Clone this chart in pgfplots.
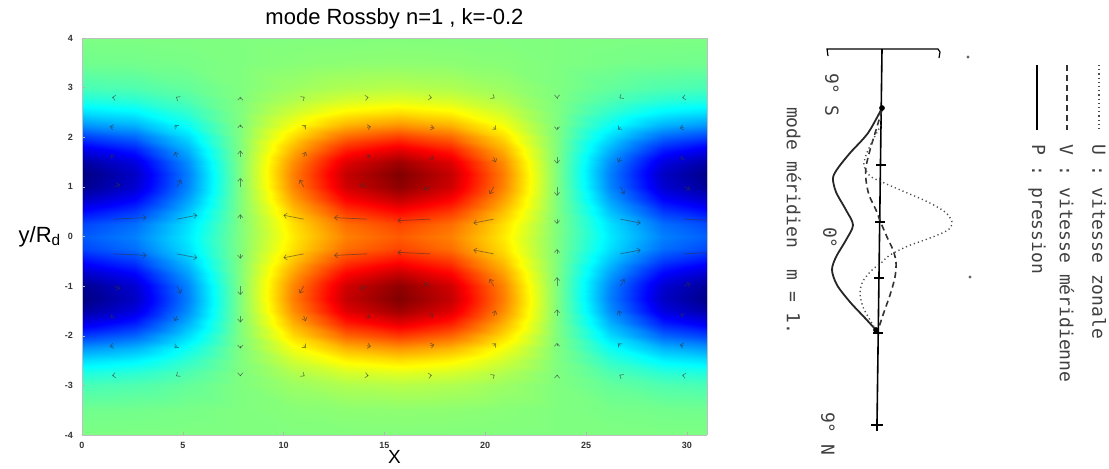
\documentclass[border=0pt]{standalone}
\usepackage{fontspec}
\setmainfont{Liberation Sans}
\newfontfamily\monof{DejaVu Sans Mono}
\usepackage{pgfplots}
\pgfplotsset{compat=1.18}
\usepackage{pgfplotstable}
\usetikzlibrary{arrows.meta}

\pgfplotstableread{
x y u v
1.571 2.8 -0.082 0.005
4.712 2.8 -0.051 0.013
7.854 2.8 0 0.017
10.996 2.8 0.051 0.013
14.137 2.8 0.082 0.005
17.279 2.8 0.082 -0.005
20.420 2.8 0.051 -0.013
23.562 2.8 0 -0.017
26.704 2.8 -0.051 -0.013
29.845 2.8 -0.082 -0.005
1.571 2.2 -0.196 0.018
4.712 2.2 -0.121 0.048
7.854 2.2 0 0.059
10.996 2.2 0.121 0.048
14.137 2.2 0.196 0.018
17.279 2.2 0.196 -0.018
20.420 2.2 0.121 -0.048
23.562 2.2 0 -0.059
26.704 2.2 -0.121 -0.048
29.845 2.2 -0.196 -0.018
1.571 1.6 -0.164 0.041
4.712 1.6 -0.101 0.108
7.854 1.6 0 0.134
10.996 1.6 0.101 0.108
14.137 1.6 0.164 0.041
17.279 1.6 0.164 -0.041
20.420 1.6 0.101 -0.108
23.562 1.6 0 -0.134
26.704 1.6 -0.101 -0.108
29.845 1.6 -0.164 -0.041
1.571 1.0 0.327 0.056
4.712 1.0 0.202 0.147
7.854 1.0 0 0.182
10.996 1.0 -0.202 0.147
14.137 1.0 -0.327 0.056
17.279 1.0 -0.327 -0.056
20.420 1.0 -0.202 -0.147
23.562 1.0 0 -0.182
26.704 1.0 0.202 -0.147
29.845 1.0 0.327 -0.056
1.571 0.35 1.636 0.031
4.712 0.35 1.011 0.080
7.854 0.35 0 0.099
10.996 0.35 -1.011 0.080
14.137 0.35 -1.636 0.031
17.279 0.35 -1.636 -0.031
20.420 0.35 -1.011 -0.080
23.562 0.35 0 -0.099
26.704 0.35 1.011 -0.080
29.845 0.35 1.636 -0.031
1.571 -0.35 1.636 -0.031
4.712 -0.35 1.011 -0.080
7.854 -0.35 0 -0.099
10.996 -0.35 -1.011 -0.080
14.137 -0.35 -1.636 -0.031
17.279 -0.35 -1.636 0.031
20.420 -0.35 -1.011 0.080
23.562 -0.35 0 0.099
26.704 -0.35 1.011 0.080
29.845 -0.35 1.636 0.031
1.571 -1.0 0.327 -0.056
4.712 -1.0 0.202 -0.147
7.854 -1.0 0 -0.182
10.996 -1.0 -0.202 -0.147
14.137 -1.0 -0.327 -0.056
17.279 -1.0 -0.327 0.056
20.420 -1.0 -0.202 0.147
23.562 -1.0 0 0.182
26.704 -1.0 0.202 0.147
29.845 -1.0 0.327 0.056
1.571 -1.6 -0.164 -0.041
4.712 -1.6 -0.101 -0.108
7.854 -1.6 0 -0.134
10.996 -1.6 0.101 -0.108
14.137 -1.6 0.164 -0.041
17.279 -1.6 0.164 0.041
20.420 -1.6 0.101 0.108
23.562 -1.6 0 0.134
26.704 -1.6 -0.101 0.108
29.845 -1.6 -0.164 0.041
1.571 -2.2 -0.196 -0.018
4.712 -2.2 -0.121 -0.048
7.854 -2.2 0 -0.059
10.996 -2.2 0.121 -0.048
14.137 -2.2 0.196 -0.018
17.279 -2.2 0.196 0.018
20.420 -2.2 0.121 0.048
23.562 -2.2 0 0.059
26.704 -2.2 -0.121 0.048
29.845 -2.2 -0.196 0.018
1.571 -2.8 -0.082 -0.005
4.712 -2.8 -0.051 -0.013
7.854 -2.8 0 -0.017
10.996 -2.8 0.051 -0.013
14.137 -2.8 0.082 -0.005
17.279 -2.8 0.082 0.005
20.420 -2.8 0.051 0.013
23.562 -2.8 0 0.017
26.704 -2.8 -0.051 0.013
29.845 -2.8 -0.082 0.005
}\quiv

\begin{document}
\begin{tikzpicture}
\useasboundingbox (0,0) rectangle (554.5pt,234pt);
\begin{axis}[at={(41pt,16.5pt)}, anchor=south west, width=312.5pt, height=198.5pt, scale only axis,
  view={0}{90}, xmin=0, xmax=31, ymin=-4, ymax=4, clip mode=individual,
  colormap/jet, point meta min=-1, point meta max=1,
  xtick={0,5,...,30}, ytick={-4,-3,...,4},
  tick label style={font=\fontsize{4.5}{5}\selectfont\bfseries, text=black!80},
  /pgf/number format/assume math mode=true,
  axis line style={gray!50, line width=0.4pt},
  tick style={gray!60}, major tick length=1.5pt, tick align=inside,
  xtick pos=left, ytick pos=left,
  xticklabel style={yshift=0pt}, yticklabel style={xshift=-1pt}]
\addplot3[surf, shader=interp, mesh/cols=13, mesh/rows=29] table[row sep=\\] {
x y z\\
0 -4 -0.006\\2.618 -4 -0.005\\5.236 -4 -0.003\\7.854 -4 0\\10.472 -4 0.003\\13.09 -4 0.005\\15.708 -4 0.006\\18.326 -4 0.005\\20.944 -4 0.003\\23.562 -4 0\\26.18 -4 -0.003\\28.798 -4 -0.005\\31.416 -4 -0.006\\
0 -3.5 -0.029\\2.618 -3.5 -0.025\\5.236 -3.5 -0.015\\7.854 -3.5 0\\10.472 -3.5 0.015\\13.09 -3.5 0.025\\15.708 -3.5 0.029\\18.326 -3.5 0.025\\20.944 -3.5 0.015\\23.562 -3.5 0\\26.18 -3.5 -0.015\\28.798 -3.5 -0.025\\31.416 -3.5 -0.029\\
0 -3 -0.109\\2.618 -3 -0.094\\5.236 -3 -0.055\\7.854 -3 0\\10.472 -3 0.055\\13.09 -3 0.094\\15.708 -3 0.109\\18.326 -3 0.094\\20.944 -3 0.055\\23.562 -3 0\\26.18 -3 -0.055\\28.798 -3 -0.094\\31.416 -3 -0.109\\
0 -2.75 -0.190\\2.618 -2.75 -0.165\\5.236 -2.75 -0.095\\7.854 -2.75 0\\10.472 -2.75 0.095\\13.09 -2.75 0.165\\15.708 -2.75 0.190\\18.326 -2.75 0.165\\20.944 -2.75 0.095\\23.562 -2.75 0\\26.18 -2.75 -0.095\\28.798 -2.75 -0.165\\31.416 -2.75 -0.190\\
0 -2.5 -0.307\\2.618 -2.5 -0.266\\5.236 -2.5 -0.154\\7.854 -2.5 0\\10.472 -2.5 0.154\\13.09 -2.5 0.266\\15.708 -2.5 0.307\\18.326 -2.5 0.266\\20.944 -2.5 0.154\\23.562 -2.5 0\\26.18 -2.5 -0.154\\28.798 -2.5 -0.266\\31.416 -2.5 -0.307\\
0 -2.25 -0.460\\2.618 -2.25 -0.398\\5.236 -2.25 -0.230\\7.854 -2.25 0\\10.472 -2.25 0.230\\13.09 -2.25 0.398\\15.708 -2.25 0.460\\18.326 -2.25 0.398\\20.944 -2.25 0.230\\23.562 -2.25 0\\26.18 -2.25 -0.230\\28.798 -2.25 -0.398\\31.416 -2.25 -0.460\\
0 -2 -0.634\\2.618 -2 -0.549\\5.236 -2 -0.317\\7.854 -2 0\\10.472 -2 0.317\\13.09 -2 0.549\\15.708 -2 0.634\\18.326 -2 0.549\\20.944 -2 0.317\\23.562 -2 0\\26.18 -2 -0.317\\28.798 -2 -0.549\\31.416 -2 -0.634\\
0 -1.75 -0.805\\2.618 -1.75 -0.697\\5.236 -1.75 -0.403\\7.854 -1.75 0\\10.472 -1.75 0.403\\13.09 -1.75 0.697\\15.708 -1.75 0.805\\18.326 -1.75 0.697\\20.944 -1.75 0.403\\23.562 -1.75 0\\26.18 -1.75 -0.403\\28.798 -1.75 -0.697\\31.416 -1.75 -0.805\\
0 -1.5 -0.937\\2.618 -1.5 -0.811\\5.236 -1.5 -0.469\\7.854 -1.5 0\\10.472 -1.5 0.469\\13.09 -1.5 0.811\\15.708 -1.5 0.937\\18.326 -1.5 0.811\\20.944 -1.5 0.469\\23.562 -1.5 0\\26.18 -1.5 -0.469\\28.798 -1.5 -0.811\\31.416 -1.5 -0.937\\
0 -1.25 -0.998\\2.618 -1.25 -0.864\\5.236 -1.25 -0.499\\7.854 -1.25 0\\10.472 -1.25 0.499\\13.09 -1.25 0.864\\15.708 -1.25 0.998\\18.326 -1.25 0.864\\20.944 -1.25 0.499\\23.562 -1.25 0\\26.18 -1.25 -0.499\\28.798 -1.25 -0.864\\31.416 -1.25 -0.998\\
0 -1 -0.971\\2.618 -1 -0.841\\5.236 -1 -0.486\\7.854 -1 0\\10.472 -1 0.486\\13.09 -1 0.841\\15.708 -1 0.971\\18.326 -1 0.841\\20.944 -1 0.486\\23.562 -1 0\\26.18 -1 -0.486\\28.798 -1 -0.841\\31.416 -1 -0.971\\
0 -0.75 -0.870\\2.618 -0.75 -0.753\\5.236 -0.75 -0.435\\7.854 -0.75 0\\10.472 -0.75 0.435\\13.09 -0.75 0.753\\15.708 -0.75 0.870\\18.326 -0.75 0.753\\20.944 -0.75 0.435\\23.562 -0.75 0\\26.18 -0.75 -0.435\\28.798 -0.75 -0.753\\31.416 -0.75 -0.870\\
0 -0.5 -0.734\\2.618 -0.5 -0.636\\5.236 -0.5 -0.367\\7.854 -0.5 0\\10.472 -0.5 0.367\\13.09 -0.5 0.636\\15.708 -0.5 0.734\\18.326 -0.5 0.636\\20.944 -0.5 0.367\\23.562 -0.5 0\\26.18 -0.5 -0.367\\28.798 -0.5 -0.636\\31.416 -0.5 -0.734\\
0 -0.25 -0.619\\2.618 -0.25 -0.536\\5.236 -0.25 -0.310\\7.854 -0.25 0\\10.472 -0.25 0.310\\13.09 -0.25 0.536\\15.708 -0.25 0.619\\18.326 -0.25 0.536\\20.944 -0.25 0.310\\23.562 -0.25 0\\26.18 -0.25 -0.310\\28.798 -0.25 -0.536\\31.416 -0.25 -0.619\\
0 0 -0.575\\2.618 0 -0.498\\5.236 0 -0.288\\7.854 0 0\\10.472 0 0.288\\13.09 0 0.498\\15.708 0 0.575\\18.326 0 0.498\\20.944 0 0.288\\23.562 0 0\\26.18 0 -0.288\\28.798 0 -0.498\\31.416 0 -0.575\\
0 0.25 -0.619\\2.618 0.25 -0.536\\5.236 0.25 -0.310\\7.854 0.25 0\\10.472 0.25 0.310\\13.09 0.25 0.536\\15.708 0.25 0.619\\18.326 0.25 0.536\\20.944 0.25 0.310\\23.562 0.25 0\\26.18 0.25 -0.310\\28.798 0.25 -0.536\\31.416 0.25 -0.619\\
0 0.5 -0.734\\2.618 0.5 -0.636\\5.236 0.5 -0.367\\7.854 0.5 0\\10.472 0.5 0.367\\13.09 0.5 0.636\\15.708 0.5 0.734\\18.326 0.5 0.636\\20.944 0.5 0.367\\23.562 0.5 0\\26.18 0.5 -0.367\\28.798 0.5 -0.636\\31.416 0.5 -0.734\\
0 0.75 -0.870\\2.618 0.75 -0.753\\5.236 0.75 -0.435\\7.854 0.75 0\\10.472 0.75 0.435\\13.09 0.75 0.753\\15.708 0.75 0.870\\18.326 0.75 0.753\\20.944 0.75 0.435\\23.562 0.75 0\\26.18 0.75 -0.435\\28.798 0.75 -0.753\\31.416 0.75 -0.870\\
0 1 -0.971\\2.618 1 -0.841\\5.236 1 -0.486\\7.854 1 0\\10.472 1 0.486\\13.09 1 0.841\\15.708 1 0.971\\18.326 1 0.841\\20.944 1 0.486\\23.562 1 0\\26.18 1 -0.486\\28.798 1 -0.841\\31.416 1 -0.971\\
0 1.25 -0.998\\2.618 1.25 -0.864\\5.236 1.25 -0.499\\7.854 1.25 0\\10.472 1.25 0.499\\13.09 1.25 0.864\\15.708 1.25 0.998\\18.326 1.25 0.864\\20.944 1.25 0.499\\23.562 1.25 0\\26.18 1.25 -0.499\\28.798 1.25 -0.864\\31.416 1.25 -0.998\\
0 1.5 -0.937\\2.618 1.5 -0.811\\5.236 1.5 -0.469\\7.854 1.5 0\\10.472 1.5 0.469\\13.09 1.5 0.811\\15.708 1.5 0.937\\18.326 1.5 0.811\\20.944 1.5 0.469\\23.562 1.5 0\\26.18 1.5 -0.469\\28.798 1.5 -0.811\\31.416 1.5 -0.937\\
0 1.75 -0.805\\2.618 1.75 -0.697\\5.236 1.75 -0.403\\7.854 1.75 0\\10.472 1.75 0.403\\13.09 1.75 0.697\\15.708 1.75 0.805\\18.326 1.75 0.697\\20.944 1.75 0.403\\23.562 1.75 0\\26.18 1.75 -0.403\\28.798 1.75 -0.697\\31.416 1.75 -0.805\\
0 2 -0.634\\2.618 2 -0.549\\5.236 2 -0.317\\7.854 2 0\\10.472 2 0.317\\13.09 2 0.549\\15.708 2 0.634\\18.326 2 0.549\\20.944 2 0.317\\23.562 2 0\\26.18 2 -0.317\\28.798 2 -0.549\\31.416 2 -0.634\\
0 2.25 -0.460\\2.618 2.25 -0.398\\5.236 2.25 -0.230\\7.854 2.25 0\\10.472 2.25 0.230\\13.09 2.25 0.398\\15.708 2.25 0.460\\18.326 2.25 0.398\\20.944 2.25 0.230\\23.562 2.25 0\\26.18 2.25 -0.230\\28.798 2.25 -0.398\\31.416 2.25 -0.460\\
0 2.5 -0.307\\2.618 2.5 -0.266\\5.236 2.5 -0.154\\7.854 2.5 0\\10.472 2.5 0.154\\13.09 2.5 0.266\\15.708 2.5 0.307\\18.326 2.5 0.266\\20.944 2.5 0.154\\23.562 2.5 0\\26.18 2.5 -0.154\\28.798 2.5 -0.266\\31.416 2.5 -0.307\\
0 2.75 -0.190\\2.618 2.75 -0.165\\5.236 2.75 -0.095\\7.854 2.75 0\\10.472 2.75 0.095\\13.09 2.75 0.165\\15.708 2.75 0.190\\18.326 2.75 0.165\\20.944 2.75 0.095\\23.562 2.75 0\\26.18 2.75 -0.095\\28.798 2.75 -0.165\\31.416 2.75 -0.190\\
0 3 -0.109\\2.618 3 -0.094\\5.236 3 -0.055\\7.854 3 0\\10.472 3 0.055\\13.09 3 0.094\\15.708 3 0.109\\18.326 3 0.094\\20.944 3 0.055\\23.562 3 0\\26.18 3 -0.055\\28.798 3 -0.094\\31.416 3 -0.109\\
0 3.5 -0.029\\2.618 3.5 -0.025\\5.236 3.5 -0.015\\7.854 3.5 0\\10.472 3.5 0.015\\13.09 3.5 0.025\\15.708 3.5 0.029\\18.326 3.5 0.025\\20.944 3.5 0.015\\23.562 3.5 0\\26.18 3.5 -0.015\\28.798 3.5 -0.025\\31.416 3.5 -0.029\\
0 4 -0.006\\2.618 4 -0.005\\5.236 4 -0.003\\7.854 4 0\\10.472 4 0.003\\13.09 4 0.005\\15.708 4 0.006\\18.326 4 0.005\\20.944 4 0.003\\23.562 4 0\\26.18 4 -0.003\\28.798 4 -0.005\\31.416 4 -0.006\\
};
\addplot[quiver={u=\thisrow{u}, v=\thisrow{v}}, black!80, opacity=0.55, line width=0.35pt, -{Straight Barb[length=1.5pt,width=2.6pt]}] table {\quiv};
\node at (axis description cs:0.5,1) [anchor=base, yshift=7pt, font=\fontsize{11}{13}\selectfont] {mode Rossby n=1 , k=-0.2};
\node at (axis description cs:0.5,0) [yshift=-11pt, font=\fontsize{9.5}{11}\selectfont] {X};
\node at (axis description cs:0,0.5) [xshift=-21pt, font=\fontsize{11}{13}\selectfont] {y/R\textsubscript{d}};
\end{axis}
\begin{axis}[at={(370pt,0pt)}, anchor=south west, width=184.5pt, height=234pt, scale only axis,
  xmin=740, xmax=1109, ymin=0, ymax=468, y dir=reverse, axis lines=none, clip=false]
\addplot[black, line width=0.8pt] coordinates {(882,49) (877,425)};
\addplot[black, line width=0.6pt] coordinates {(828,56) (827,49) (938,49) (940,52) (939,58)};
\addplot[black!85, line width=0.9pt, smooth] coordinates {(882,108) (868,133) (850,153) (838,168) (833,178) (836,192) (846,210) (853,225) (846,240) (836,257) (832,270) (837,285) (850,302) (865,318) (876,330)};
\addplot[black!80, line width=0.8pt, smooth, dash pattern=on 3pt off 2pt] coordinates {(882,110) (876,130) (870,150) (866,167) (866,180) (869,195) (876,210) (881,223) (887,237) (893,250) (896,262) (895,277) (890,295) (884,312) (878,330)};
\addplot[black!70, line width=0.7pt, smooth, dash pattern=on 0.6pt off 1.5pt] coordinates {(881,125) (873,140) (866,155) (864,166) (870,176) (882,182) (905,192) (928,202) (945,212) (952,222) (948,230) (930,238) (908,246) (890,255) (881,263) (872,270) (863,281) (860,293) (863,307) (870,320) (876,330)};
\addplot[only marks, mark=-, mark size=2.5pt, black, mark options={line width=0.6pt}] coordinates {(881,165) (880,222) (879,278) (878,333)};
\addplot[only marks, mark=+, mark size=3pt, black, mark options={line width=0.6pt}] coordinates {(877,425)};
\addplot[only marks, mark=*, mark size=1.2pt, black] coordinates {(882,108) (876,330)};
\addplot[only marks, mark=*, mark size=0.5pt, black!60] coordinates {(968,57) (970,277)};
\addplot[black!70, line width=0.7pt, dash pattern=on 0.6pt off 1.5pt] coordinates {(1099,65) (1099,130)};
\addplot[black!80, line width=0.8pt, dash pattern=on 3pt off 2pt] coordinates {(1067,65) (1067,130)};
\addplot[black, line width=1.3pt] coordinates {(1037,65) (1037,130)};
\node[rotate=-90, anchor=west, font=\monof\fontsize{9}{11}\selectfont, text=black!75] at (axis cs:1099,137) {U : vitesse zonale};
\node[rotate=-90, anchor=west, font=\monof\fontsize{9}{11}\selectfont, text=black!75] at (axis cs:1067,137) {V : vitesse méridienne};
\node[rotate=-90, anchor=west, font=\monof\fontsize{9}{11}\selectfont, text=black!75] at (axis cs:1037,137) {P : pression};
\node[rotate=-90, anchor=west, font=\monof\fontsize{9}{11}\selectfont, text=black!75] at (axis cs:832,66) {9° S};
\node[rotate=-90, anchor=west, font=\monof\fontsize{9}{11}\selectfont, text=black!75] at (axis cs:830,220) {0°};
\node[rotate=-90, anchor=west, font=\monof\fontsize{9}{11}\selectfont, text=black!75] at (axis cs:828,405) {9° N};
\node[rotate=-90, anchor=west, font=\monof\fontsize{9}{11}\selectfont, text=black!75] at (axis cs:794,100) {mode méridien\ \ m = 1.};
\end{axis}
\end{tikzpicture}
\end{document}
